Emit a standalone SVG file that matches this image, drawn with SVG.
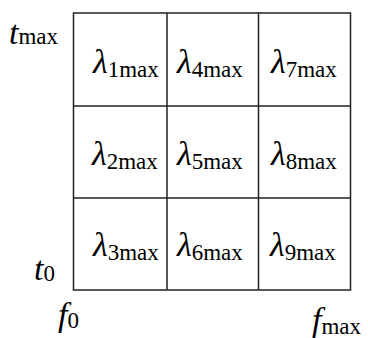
<svg xmlns="http://www.w3.org/2000/svg" width="368" height="338" viewBox="0 0 368 338">
<style>
text{font-family:"Liberation Serif","Times New Roman",serif;fill:#000}
.l{font-style:italic;font-size:34px}
.s{font-size:23px}
.v{font-style:italic;font-size:34px}
.grid line,.grid rect{stroke:#222;stroke-width:1.5;fill:none}
</style>
<rect width="368" height="338" fill="#fff"/>
<g id="connectors" class="grid">
<rect x="73.5" y="13" width="277" height="277"/>
<line x1="167" y1="13" x2="167" y2="290"/>
<line x1="258.5" y1="13" x2="258.5" y2="290"/>
<line x1="73.5" y1="106" x2="350.5" y2="106"/>
<line x1="73.5" y1="198" x2="350.5" y2="198"/>
</g>
<g id="cell1"><text x="93" y="73"><tspan class="l">λ</tspan><tspan class="s" dy="4">1max</tspan></text></g>
<g id="cell4"><text x="177" y="73"><tspan class="l">λ</tspan><tspan class="s" dy="4">4max</tspan></text></g>
<g id="cell7"><text x="271" y="73"><tspan class="l">λ</tspan><tspan class="s" dy="4">7max</tspan></text></g>
<g id="cell2"><text x="92" y="165"><tspan class="l">λ</tspan><tspan class="s" dy="4">2max</tspan></text></g>
<g id="cell5"><text x="177" y="165"><tspan class="l">λ</tspan><tspan class="s" dy="4">5max</tspan></text></g>
<g id="cell8"><text x="271" y="165"><tspan class="l">λ</tspan><tspan class="s" dy="4">8max</tspan></text></g>
<g id="cell3"><text x="93" y="256"><tspan class="l">λ</tspan><tspan class="s" dy="4">3max</tspan></text></g>
<g id="cell6"><text x="177" y="256"><tspan class="l">λ</tspan><tspan class="s" dy="4">6max</tspan></text></g>
<g id="cell9"><text x="270" y="256"><tspan class="l">λ</tspan><tspan class="s" dy="4">9max</tspan></text></g>
<g id="tmax"><text x="9" y="44"><tspan class="v">t</tspan><tspan class="s">max</tspan></text></g>
<g id="t0"><text x="34" y="280"><tspan class="v">t</tspan><tspan class="s" dy="1">0</tspan></text></g>
<g id="f0"><text x="58" y="326"><tspan class="v">f</tspan><tspan class="s" dy="2">0</tspan></text></g>
<g id="fmax"><text x="312" y="331"><tspan class="v">f</tspan><tspan class="s" dy="3">max</tspan></text></g>
</svg>
